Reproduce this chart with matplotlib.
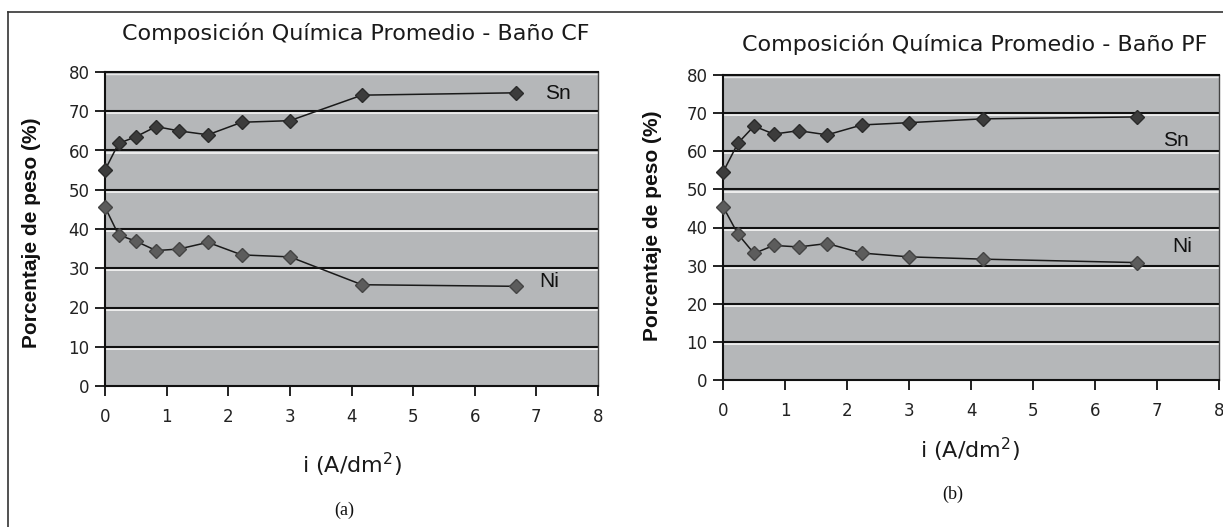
import matplotlib
matplotlib.use("Agg")
import matplotlib.pyplot as plt
import matplotlib.transforms as mtrans
from matplotlib.lines import Line2D

plt.rcParams['font.family'] = ['DejaVu Sans']

# Data
x_a = [0, 0.22, 0.5, 0.83, 1.2, 1.67, 2.22, 3.0, 4.17, 6.67]
sn_a = [55.0, 61.8, 63.5, 66.1, 65.0, 64.0, 67.2, 67.6, 74.1, 74.7]
ni_a = [45.6, 38.5, 36.9, 34.5, 34.9, 36.6, 33.4, 32.9, 25.8, 25.4]

x_b = [0, 0.24, 0.5, 0.82, 1.22, 1.68, 2.24, 3.0, 4.19, 6.67]
sn_b = [54.5, 62.1, 66.6, 64.5, 65.4, 64.3, 66.9, 67.5, 68.5, 69.0]
ni_b = [45.5, 38.3, 33.2, 35.3, 34.9, 35.8, 33.3, 32.3, 31.7, 30.8]

titles = ["Composición Química Promedio - Baño CF",
          "Composición Química Promedio - Baño PF"]
ylabel = "Porcentaje de peso (%)"
xlabel = "i (A/dm$^2$)"
captions = ["(a)", "(b)"]
xticks = [0, 1, 2, 3, 4, 5, 6, 7, 8]
yticks = [0, 10, 20, 30, 40, 50, 60, 70, 80]

W, H = 1223, 527
fig = plt.figure(figsize=(W / 100, H / 100), dpi=100)

def fx(px):
    return px / W

def fy(py):
    return 1 - py / H

# outer frame lines
fig.add_artist(Line2D([fx(8), fx(8)], [fy(12), 0], color='#333333', lw=1.2))
fig.add_artist(Line2D([fx(8), 1], [fy(12), fy(12)], color='#333333', lw=1.2))

panels = [
    dict(rect=(105, 72, 598, 386), x=x_a, sn=sn_a, ni=ni_a,
         sn_lab=(7.35, 74.5), ni_lab=(7.2, 26.5),
         title=(356, 33), ylab=(32, 233), xlab=(352, 465), cap=(344, 510)),
    dict(rect=(723, 75, 1219, 380), x=x_b, sn=sn_b, ni=ni_b,
         sn_lab=(7.3, 62.8), ni_lab=(7.4, 35.0),
         title=(975, 44), ylab=(652, 226), xlab=(970, 450), cap=(953, 494)),
]

for i, p in enumerate(panels):
    l, t, r, b = p['rect']
    ax = fig.add_axes([fx(l), fy(b), (r - l) / W, (b - t) / H])
    ax.set_facecolor('#b5b7b9')
    ax.set_xlim(0, 8)
    ax.set_ylim(0, 80)
    ax.set_xticks(xticks)
    ax.set_yticks(yticks)
    ax.tick_params(axis='both', direction='out', length=7, width=1.3,
                   colors='#111111', labelsize=12, labelcolor='#222222')
    ax.tick_params(axis='x', pad=9)
    ax.tick_params(axis='y', pad=4)
    for s in ['left', 'bottom', 'top']:
        ax.spines[s].set_color('#111111')
        ax.spines[s].set_linewidth(1.5)
    ax.spines['right'].set_color('#444444')
    ax.spines['right'].set_linewidth(1.0)
    # gridlines with white highlight below
    off = mtrans.offset_copy(ax.transData, fig=fig, x=0, y=-2.2, units='dots')
    for yv in yticks[1:-1]:
        ax.plot([0, 8], [yv, yv], color='#f2f2f2', lw=1.3, transform=off,
                zorder=1, solid_capstyle='butt')
        ax.axhline(yv, color='#111111', lw=1.5, zorder=1.5)
    ax.plot([0, 8], [80, 80], color='#e8e8e8', lw=1.0, transform=off, zorder=1)

    ax.plot(p['x'], p['sn'], color='#1a1a1a', lw=1.1, marker='D', ms=7.5,
            markerfacecolor='#3c3c3c', markeredgecolor='#2a2a2a', zorder=3,
            clip_on=False)
    ax.plot(p['x'], p['ni'], color='#1a1a1a', lw=1.1, marker='D', ms=7.5,
            markerfacecolor='#5c5c5c', markeredgecolor='#444444', zorder=3,
            clip_on=False)
    ax.text(*p['sn_lab'], 'Sn', fontsize=15, color='#111111',
            family=['Liberation Sans'], ha='center', va='center', zorder=4)
    ax.text(*p['ni_lab'], 'Ni', fontsize=15, color='#111111',
            family=['Liberation Sans'], ha='center', va='center', zorder=4)

    fig.text(fx(p['title'][0]), fy(p['title'][1]), titles[i], fontsize=16,
             color='#1a1a1a', ha='center', va='center')
    fig.text(fx(p['ylab'][0]), fy(p['ylab'][1]), ylabel, fontsize=15,
             fontweight='bold', rotation=90, ha='center', va='center',
             family=['Liberation Sans'], color='#111111')
    fig.text(fx(p['xlab'][0]), fy(p['xlab'][1]), xlabel, fontsize=16,
             ha='center', va='center', color='#1a1a1a')
    fig.text(fx(p['cap'][0]), fy(p['cap'][1]), captions[i], fontsize=13,
             family=['Liberation Serif', 'DejaVu Serif'],
             ha='center', va='center', color='#111111')

fig.savefig('out.png', dpi=100, facecolor='white')
